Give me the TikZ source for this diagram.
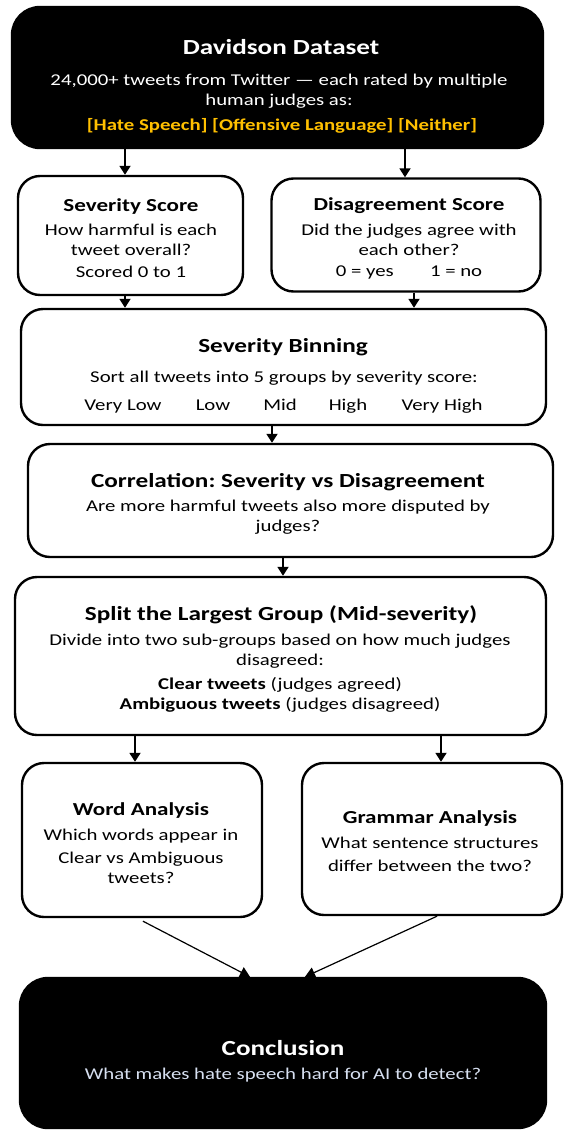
\documentclass[tikz,border=0pt]{standalone}
\usepackage{fontspec}
\setmainfont{Carlito}[FakeStretch=1.26]
\usetikzlibrary{arrows.meta,calc}
\frenchspacing
\definecolor{gold}{HTML}{FFC000}
\definecolor{paleblue}{HTML}{D6DFF0}
\tikzset{
  box/.style={draw=black,line width=2.4pt,rounded corners=22pt,fill=white,inner sep=0pt},
  darkbox/.style={draw=black,line width=2.4pt,rounded corners=28pt,fill=black,inner sep=0pt},
  ttl/.style={font=\fontsize{20}{24}\selectfont\bfseries,inner sep=0pt},
  bigttl/.style={font=\fontsize{21.5}{25}\selectfont\bfseries,inner sep=0pt},
  smallttl/.style={font=\fontsize{18.3}{22}\selectfont\bfseries,inner sep=0pt},
  bodytxt/.style={font=\fontsize{16.5}{20}\selectfont,align=center,inner sep=0pt},
  rowtxt/.style={font=\fontsize{16.5}{20}\selectfont,inner sep=0pt,anchor=base},
  arr/.style={line width=1.8pt,-{Triangle[length=9pt,width=11pt]}},
  darr/.style={line width=1.2pt,-{Triangle[length=10pt,width=11pt]}}
}
\begin{document}
\begin{tikzpicture}[x=1pt,y=-1pt]
\useasboundingbox (0,0) rectangle (563,1130);
% boxes
\node[darkbox,minimum width=531pt,minimum height=141pt] (top) at (277.5,77.5) {};
\node[box,minimum width=225pt,minimum height=119pt] (sev) at (130.5,235.5) {};
\node[box,minimum width=269pt,minimum height=113pt] (dis) at (406,235) {};
\node[box,minimum width=525pt,minimum height=116pt] (bin) at (283.5,367) {};
\node[box,minimum width=525pt,minimum height=113pt] (cor) at (290.5,500.5) {};
\node[box,minimum width=531pt,minimum height=158pt] (spl) at (280.5,656) {};
\node[box,minimum width=240pt,minimum height=154pt] (wrd) at (142,840) {};
\node[box,minimum width=260pt,minimum height=152pt] (gra) at (432,839) {};
\node[darkbox,minimum width=526pt,minimum height=150pt] (con) at (283,1053) {};
% texts
\node[bigttl,text=white] (t1) at (281,47) {Davidson Dataset};
\node[bodytxt,text=white] (t1b) at (279,91) {24,000+ tweets from Twitter — each rated by multiple\\human judges as:};
\node[bodytxt,text=gold,font=\fontsize{16.5}{20}\selectfont\bfseries] (t1c) at (282,126) {[Hate Speech] [Offensive Language] [Neither]};

\node[smallttl] (t2) at (131,207) {Severity Score};
\node[bodytxt] (t2b) at (131,240) {How harmful is each\\tweet overall?};
\node[bodytxt] (t2c) at (131,272) {Scored 0 to 1};

\node[smallttl] (t3) at (409,206) {Disagreement Score};
\node[bodytxt] (t3b) at (409,240) {Did the judges agree with\\each other?};
\node[bodytxt] (t3c) at (409,272) {0 = yes\hspace{2.2em}1 = no};

\node[ttl] (t4) at (283,347) {Severity Binning};
\node[bodytxt] (t4b) at (284,378) {Sort all tweets into 5 groups by severity score:};
\node[rowtxt] (v1) at (123,410) {Very Low};
\node[rowtxt] (v2) at (213,410) {Low};
\node[rowtxt] (v3) at (280,410) {Mid};
\node[rowtxt] (v4) at (348,410) {High};
\node[rowtxt] (v5) at (442,410) {Very High};

\node[ttl] (t5) at (288,482) {Correlation: Severity vs Disagreement};
\node[bodytxt] (t5b) at (288,517) {Are more harmful tweets also more disputed by\\judges?};

\node[ttl] (t6) at (281,615) {Split the Largest Group (Mid-severity)};
\node[bodytxt] (t6b) at (280,651) {Divide into two sub-groups based on how much judges\\disagreed:};
\node[bodytxt] (t6c) at (280,695) {\textbf{Clear tweets} (judges agreed)\\\textbf{Ambiguous tweets} (judges disagreed)};

\node[smallttl] (t7) at (141,811) {Word Analysis};
\node[bodytxt] (t7b) at (141,836) {Which words appear in};
\node[bodytxt] (t7c) at (141,868) {Clear vs Ambiguous\\tweets?};

\node[smallttl] (t8) at (430,819) {Grammar Analysis};
\node[bodytxt] (t8b) at (430,843) {What sentence structures};
\node[bodytxt] (t8c) at (430,866) {differ between the two?};

\node[bigttl,text=white] (t9) at (283,1048) {Conclusion};
\node[bodytxt,text=paleblue] (t9b) at (283,1075) {What makes hate speech hard for AI to detect?};

% connector anchor points
\coordinate (p1) at ($(top.south)+(-152.5,0)$);
\coordinate (p2) at ($(top.south)+(127.5,0)$);
\coordinate (p3) at ($(sev.south)+(-5.5,0)$);
\coordinate (p4) at ($(dis.south)+(8,0)$);
\coordinate (p5) at ($(bin.south)+(-11.5,0)$);
\coordinate (p6) at ($(cor.south)+(-7.5,0)$);
\coordinate (p7) at ($(spl.south)+(-145.5,0)$);
\coordinate (p8) at ($(spl.south)+(160.5,0)$);
\coordinate (p9) at ($(wrd.south)+(1,3)$);
\coordinate (p10) at ($(gra.south)+(5,0)$);
\coordinate (q9) at ($(con.north)+(-33,0)$);
\coordinate (q10) at ($(con.north)+(22,0)$);
% connectors
\draw[arr] (p1) -- (p1 |- sev.north);
\draw[arr] (p2) -- (p2 |- dis.north);
\draw[arr] (p3) -- (p3 |- bin.north);
\draw[arr] (p4) -- (p4 |- bin.north);
\draw[arr] (p5) -- (p5 |- cor.north);
\draw[arr] (p6) -- (p6 |- spl.north);
\draw[arr] (p7) -- (p7 |- wrd.north);
\draw[arr] (p8) -- (p8 |- gra.north);
\draw[darr] (p9) -- (q9);
\draw[darr] (p10) -- (q10);
\end{tikzpicture}
\end{document}
